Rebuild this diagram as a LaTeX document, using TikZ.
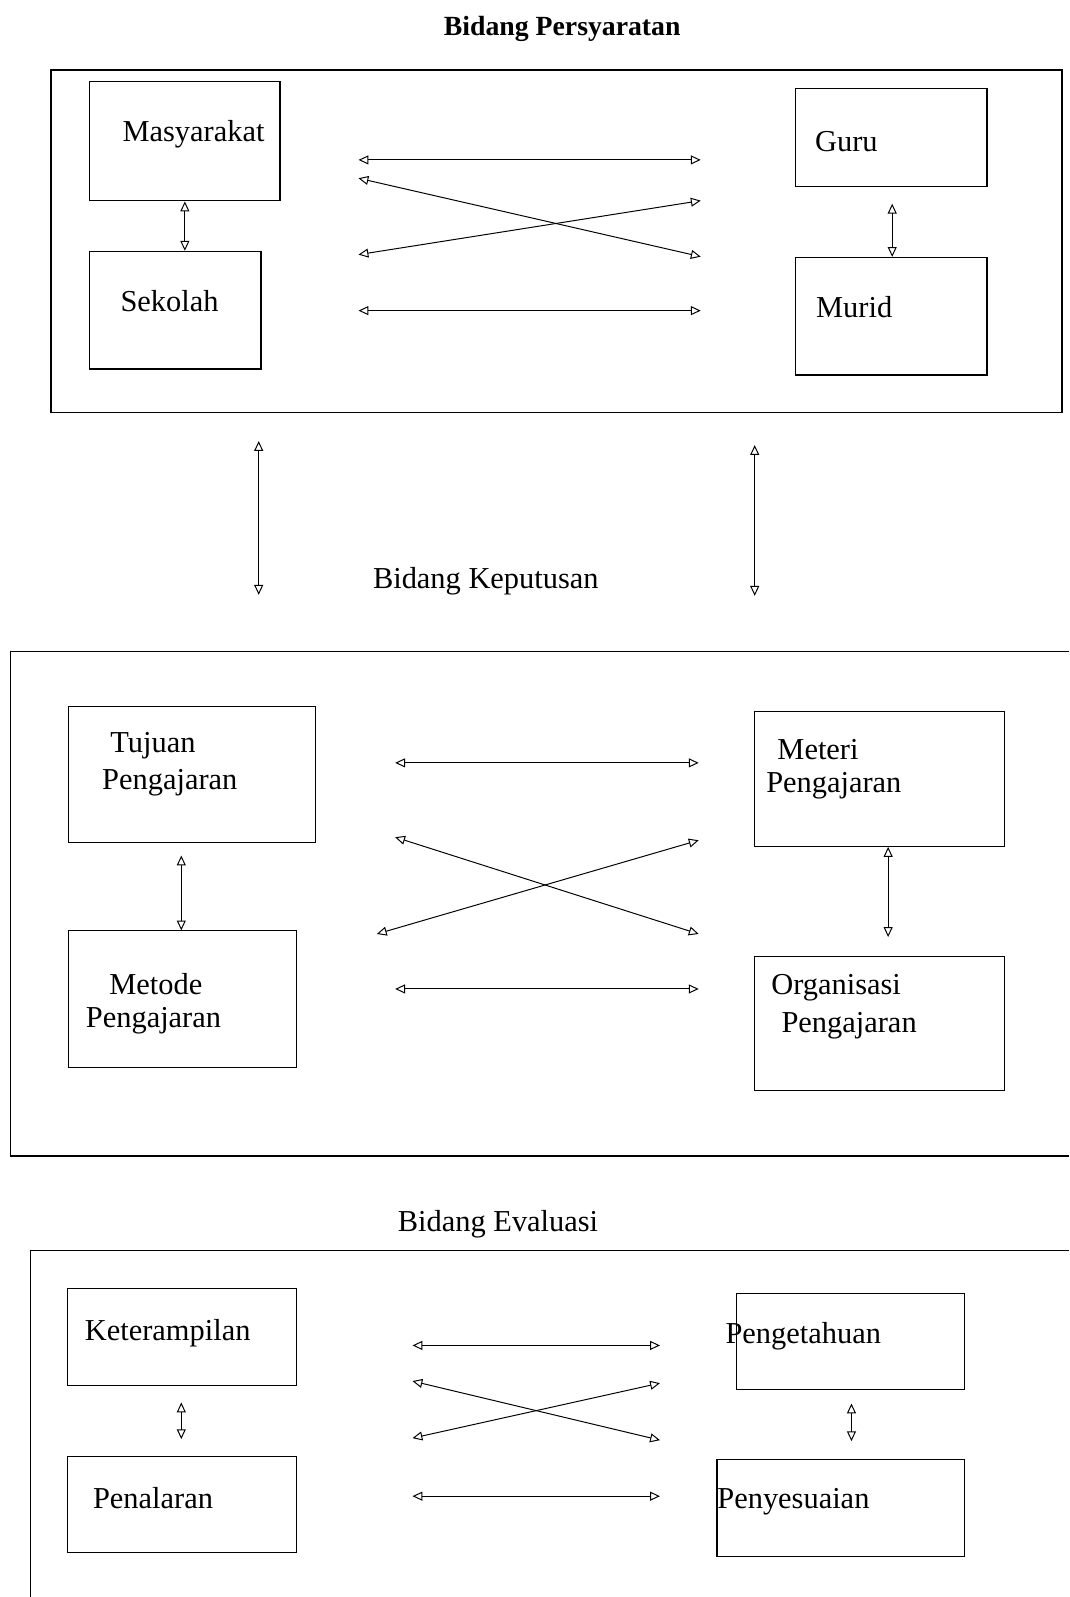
\documentclass[tikz,border=0pt]{standalone}
\usepackage{fontspec}
\setmainfont{Liberation Serif}
\usepackage{tikz}
\usetikzlibrary{arrows.meta,fit}

\begin{document}
\begin{tikzpicture}[x=0.02cm,y=-0.02cm,
        kotak/.style={draw, black, line width=0.6pt, inner sep=0pt},
        bingkai/.style={black, line width=0.7pt},
        teks/.style={black, anchor=west, inner sep=0pt, font=\fontsize{17}{20}\selectfont},
        judul/.style={black, inner sep=0pt, font=\fontsize{17}{20}\selectfont},
        panah/.style={black, line width=0.55pt, >={Triangle[open, length=5.5pt, width=5pt]}, <->}]

        \useasboundingbox (0,0) rectangle (1050,1568);

        \node[judul, font=\bfseries\fontsize{15.5}{18}\selectfont] (jdl1) at (552,28) {Bidang Persyaratan};
        \draw[bingkai, line width=1.1pt] (50,69) rectangle (1043,405);

        \node[kotak, line width=0.9pt, fit={(88,80) (275,197)}] (mas) {};
        \node[kotak, line width=0.9pt, fit={(88,247) (256,362)}] (sek) {};
        \node[kotak, line width=0.9pt, fit={(781,87) (969,183)}] (gur) {};
        \node[kotak, line width=0.9pt, fit={(781,253) (969,368)}] (mur) {};
        \node[teks] (tmas) at (120,132) {Masyarakat};
        \node[teks] (tsek) at (118,296) {Sekolah};
        \node[teks] (tgur) at (800,139) {Guru};
        \node[teks] (tmur) at (801,302) {Murid};

        \draw[panah] (mas.south) -- (mas.south |- sek.north);
        \coordinate (gm) at (876,200);
        \draw[panah] (gm) -- (gm |- mur.north);

        \coordinate (p1a) at (352,157); \coordinate (p1b) at (688,157);
        \coordinate (p2a) at (352,175); \coordinate (p2b) at (688,252);
        \coordinate (p3a) at (352,250); \coordinate (p3b) at (688,197);
        \coordinate (p4a) at (352,305); \coordinate (p4b) at (688,305);
        \draw[panah] (p1a) -- (p1b);
        \draw[panah] (p2a) -- (p2b);
        \draw[panah] (p3a) -- (p3b);
        \draw[panah] (p4a) -- (p4b);

        \coordinate (ka) at (254,433); \coordinate (kb) at (254,584);
        \coordinate (kc) at (741,437); \coordinate (kd) at (741,585);
        \draw[panah] (ka) -- (kb);
        \draw[panah] (kc) -- (kd);

        \node[judul] (jdl2) at (477,571) {Bidang Keputusan};
        \draw[bingkai] (1050,640) -- (10,640) -- (10,1135) -- (1050,1135);

        \node[kotak, fit={(67,694) (310,827)}] (tuj) {};
        \node[kotak, fit={(67,914) (291,1048)}] (met) {};
        \node[kotak, fit={(741,699) (986,831)}] (mat) {};
        \node[kotak, fit={(741,939) (986,1071)}] (org) {};
        \node[teks] (ttuj1) at (108,732) {Tujuan};
        \node[teks] (ttuj2) at (100,768) {Pengajaran};
        \node[teks] (tmet1) at (107,966) {Metode};
        \node[teks] (tmet2) at (84,1002) {Pengajaran};
        \node[teks] (tmat1) at (763,736) {Meteri};
        \node[teks] (tmat2) at (752,771) {Pengajaran};
        \node[teks] (torg1) at (757,970) {Organisasi};
        \node[teks] (torg2) at (767,1007) {Pengajaran};

        \coordinate (tm) at (178,840);
        \draw[panah] (tm) -- (tm |- met.north);
        \coordinate (mo) at (872,920);
        \draw[panah] (mo |- mat.south) -- (mo);

        \coordinate (q1a) at (388,749); \coordinate (q1b) at (686,749);
        \coordinate (q2a) at (388,822); \coordinate (q2b) at (686,917);
        \coordinate (q3a) at (370,917); \coordinate (q3b) at (686,825);
        \coordinate (q4a) at (388,971); \coordinate (q4b) at (686,971);
        \draw[panah] (q1a) -- (q1b);
        \draw[panah] (q2a) -- (q2b);
        \draw[panah] (q3a) -- (q3b);
        \draw[panah] (q4a) -- (q4b);

        \node[judul] (jdl3) at (489,1202) {Bidang Evaluasi};
        \draw[bingkai] (1050,1228) -- (30,1228) -- (30,1568);

        \node[kotak, fit={(66,1265) (291,1360)}] (ket) {};
        \node[kotak, fit={(66,1430) (291,1524)}] (pen) {};
        \node[kotak, fit={(723,1270) (947,1364)}] (pgt) {};
        \node[kotak, fit={(704,1433) (947,1528)}] (pys) {};
        \node[teks] (tket) at (83,1309) {Keterampilan};
        \node[teks] (tpen) at (91,1471) {Penalaran};
        \node[teks] (tpgt) at (712,1312) {Pengetahuan};
        \node[teks] (tpys) at (704,1474) {Penyesuaian};

        \coordinate (kp1) at (178,1377); \coordinate (kp2) at (178,1413);
        \coordinate (ps1) at (836,1378); \coordinate (ps2) at (836,1415);
        \draw[panah] (kp1) -- (kp2);
        \draw[panah] (ps1) -- (ps2);

        \coordinate (r1a) at (405,1321); \coordinate (r1b) at (648,1321);
        \coordinate (r2a) at (405,1356); \coordinate (r2b) at (648,1414);
        \coordinate (r3a) at (405,1412); \coordinate (r3b) at (648,1358);
        \coordinate (r4a) at (405,1469); \coordinate (r4b) at (648,1469);
        \draw[panah] (r1a) -- (r1b);
        \draw[panah] (r2a) -- (r2b);
        \draw[panah] (r3a) -- (r3b);
        \draw[panah] (r4a) -- (r4b);
\end{tikzpicture}
\end{document}
